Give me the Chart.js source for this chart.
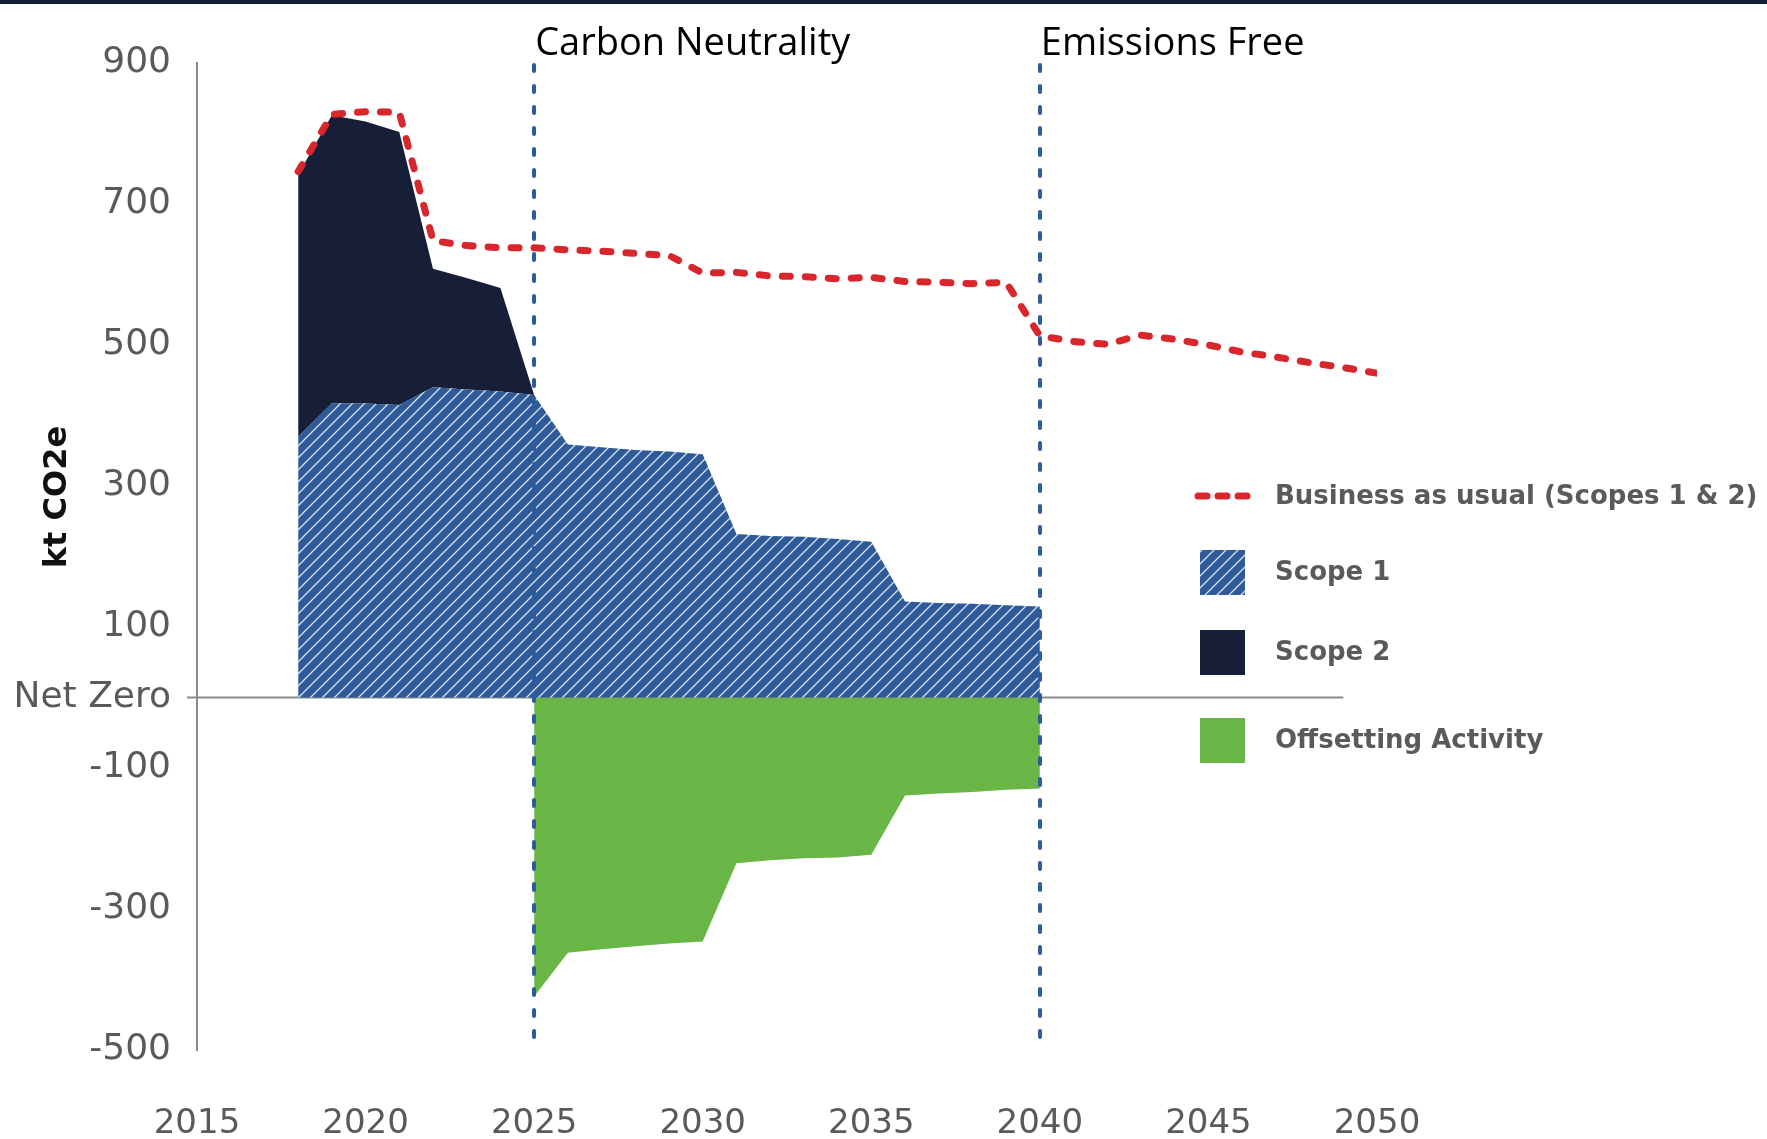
<!DOCTYPE html>
<html>
<head>
<meta charset="utf-8">
<title>Emissions pathway</title>
<script src="https://cdn.jsdelivr.net/npm/chart.js@4.4.1/dist/chart.umd.min.js"></script>
<style>
  html, body { margin: 0; padding: 0; background: #fff; }
  #wrap { width: 1767px; height: 1139px; }
</style>
</head>
<body>
<div id="wrap"><canvas id="chart" width="1767" height="1139"></canvas></div>
<script>
// business as usual, kt CO2e per year
var bauYears = [2018, 2019, 2020, 2021, 2022, 2023, 2024, 2025, 2026, 2027, 2028,
  2029, 2030, 2031, 2032, 2033, 2034, 2035, 2036, 2037, 2038, 2039, 2040, 2041,
  2042, 2043, 2044, 2045, 2046, 2047, 2048, 2049, 2050];
var bauValues = [746, 827, 831, 830, 648, 641, 638, 638, 635, 633, 630,
  627, 602, 603, 598, 597, 594, 596, 590, 589, 587, 589, 513, 505,
  501, 514, 508, 500, 490, 483, 475, 468, 460];

// scope 1 runs to 2040, scope 2 stops at 2025
var scope1Years = [2018, 2019, 2020, 2021, 2022, 2023, 2024, 2025, 2026, 2027, 2028,
  2029, 2030, 2031, 2032, 2033, 2034, 2035, 2036, 2037, 2038, 2039, 2040];
var scope1Values = [370, 417, 417, 415, 440, 437, 434, 429, 359, 355, 351,
  349, 345, 232, 229, 228, 225, 221, 136, 134, 133, 131, 129];
var scope2Years = [2018, 2019, 2020, 2021, 2022, 2023, 2024, 2025];
var scope2Values = [372, 409, 400, 387, 168, 158, 147, 0];

// offsets from 2025 on (negative)
var offsetYears = [2025, 2026, 2027, 2028, 2029, 2030, 2031, 2032, 2033, 2034, 2035,
  2036, 2037, 2038, 2039, 2040];
var offsetValues = [-424, -362, -357, -353, -349, -346, -235, -231, -228, -227, -223,
  -139, -136, -134, -131, -129];

var xTickValues = [2015, 2020, 2025, 2030, 2035, 2040, 2045, 2050];
var yTickValues = [900, 700, 500, 300, 100, 0, -100, -300, -500];
var milestoneYears = [2025, 2040];
var milestoneLabels = ["Carbon Neutrality", "Emissions Free"];

var GREY = "#5a5a5a";

function points(xs, ys) {
  return xs.map(function (x, i) { return { x: x, y: ys[i] }; });
}

var canvas = document.getElementById("chart");
var ctx = canvas.getContext("2d");

// diagonal white stripes on blue for scope 1
function hatch(bg, fg, size) {
  var c = document.createElement("canvas");
  c.width = size;
  c.height = size;
  var g = c.getContext("2d");
  g.fillStyle = bg;
  g.fillRect(0, 0, size, size);
  g.strokeStyle = fg;
  g.lineWidth = 1.3;
  g.beginPath();
  g.moveTo(0, size); g.lineTo(size, 0);
  g.moveTo(-2, 2); g.lineTo(2, -2);
  g.moveTo(size - 2, size + 2); g.lineTo(size + 2, size - 2);
  g.stroke();
  return ctx.createPattern(c, "repeat");
}

var scope1Fill = hatch("#2e5b98", "#d8e3f1", 12);

var extras = {
  id: "extras",
  beforeDraw: function (chart) {
    var c = chart.ctx;
    c.save();
    c.fillStyle = "#fff";
    c.fillRect(0, 0, chart.width, chart.height);
    c.fillStyle = "#132039";
    c.fillRect(0, 0, chart.width, 4);
    c.restore();
  },
  beforeDatasetsDraw: function (chart) {
    var c = chart.ctx, x = chart.scales.x, y = chart.scales.y;
    var y0 = y.getPixelForValue(0);
    c.save();
    c.strokeStyle = "#8a8a8a";
    c.lineWidth = 2;
    c.beginPath();
    c.moveTo(x.left - 10, y0);
    c.lineTo(x.getPixelForValue(2049), y0);
    c.stroke();
    c.restore();
  },
  afterDatasetsDraw: function (chart) {
    var c = chart.ctx, x = chart.scales.x, area = chart.chartArea;
    c.save();
    c.strokeStyle = "#2d5c9c";
    c.lineWidth = 4;
    c.lineCap = "round";
    c.setLineDash([6, 15]);
    milestoneYears.forEach(function (yr) {
      var px = Math.round(x.getPixelForValue(yr));
      c.beginPath();
      c.moveTo(px, area.top + 2);
      c.lineTo(px, area.bottom);
      c.stroke();
    });
    c.restore();
  },
  afterDraw: function (chart) {
    var c = chart.ctx, x = chart.scales.x;
    c.save();
    // milestone captions
    c.fillStyle = "#000";
    c.font = '38px "Open Sans"';
    c.textBaseline = "middle";
    milestoneYears.forEach(function (yr, i) {
      c.fillText(milestoneLabels[i], x.getPixelForValue(yr) + 1, 44);
    });
    // y axis title
    c.save();
    c.translate(58, 497);
    c.rotate(-Math.PI / 2);
    c.textAlign = "center";
    c.font = 'bold 32px "DejaVu Sans"';
    c.fillStyle = "#111";
    c.fillText("kt CO2e", 0, 0);
    c.restore();
    // legend
    var rows = [496, 572, 652, 740];
    chart.data.datasets.forEach(function (ds, i) {
      var ry = rows[i];
      if (ds.fill === false) {
        c.save();
        c.strokeStyle = ds.borderColor;
        c.lineWidth = 7;
        c.lineCap = "round";
        c.setLineDash([9, 11]);
        c.beginPath();
        c.moveTo(1198, ry);
        c.lineTo(1247, ry);
        c.stroke();
        c.restore();
      } else {
        c.fillStyle = ds.backgroundColor;
        c.fillRect(1200, ry - 22, 45, 45);
      }
      c.fillStyle = GREY;
      c.font = 'bold 26px "DejaVu Sans"';
      c.textAlign = "left";
      c.fillText(ds.label, 1275, ry + 1);
    });
    c.restore();
  }
};

new Chart(canvas, {
  type: "line",
  data: {
    datasets: [
      {
        label: "Business as usual (Scopes 1 & 2)",
        data: points(bauYears, bauValues),
        stack: "bau",
        borderColor: "#d8262d",
        borderWidth: 7,
        borderDash: [8, 15],
        borderCapStyle: "round",
        borderJoinStyle: "round",
        pointRadius: 0,
        fill: false,
        tension: 0
      },
      {
        label: "Scope 1",
        data: points(scope1Years, scope1Values),
        stack: "scopes",
        backgroundColor: scope1Fill,
        borderWidth: 0,
        pointRadius: 0,
        fill: "origin"
      },
      {
        label: "Scope 2",
        data: points(scope2Years, scope2Values),
        stack: "scopes",
        backgroundColor: "#161f37",
        borderWidth: 0,
        pointRadius: 0,
        fill: "-1"
      },
      {
        label: "Offsetting Activity",
        data: points(offsetYears, offsetValues),
        stack: "offset",
        backgroundColor: "#69b545",
        borderWidth: 0,
        pointRadius: 0,
        fill: "origin"
      }
    ]
  },
  options: {
    responsive: false,
    animation: false,
    events: [],
    layout: { padding: { top: 63, right: 390, left: 0, bottom: 0 } },
    plugins: {
      legend: { display: false },
      tooltip: { enabled: false }
    },
    scales: {
      x: {
        type: "linear",
        min: 2015,
        max: 2050,
        grid: { display: false, drawTicks: false },
        border: { display: false },
        afterBuildTicks: function (scale) {
          scale.ticks = xTickValues.map(function (v) { return { value: v }; });
        },
        afterFit: function (scale) { scale.height = 89; },
        ticks: {
          padding: 54,
          color: GREY,
          font: { family: "DejaVu Sans", size: 34 },
          maxRotation: 0,
          autoSkip: false,
          callback: function (v) { return String(v); }
        }
      },
      y: {
        stacked: true,
        min: -500,
        max: 900,
        grid: { display: false, drawTicks: false },
        border: { display: true, color: "#8a8a8a", width: 2 },
        afterBuildTicks: function (scale) {
          scale.ticks = yTickValues.map(function (v) { return { value: v }; });
        },
        afterFit: function (scale) { scale.width = 197; },
        ticks: {
          padding: 26,
          color: GREY,
          font: { family: "DejaVu Sans", size: 36 },
          autoSkip: false,
          callback: function (v) { return v === 0 ? "Net Zero" : String(v); }
        }
      }
    }
  },
  plugins: [extras]
});
</script>
</body>
</html>
